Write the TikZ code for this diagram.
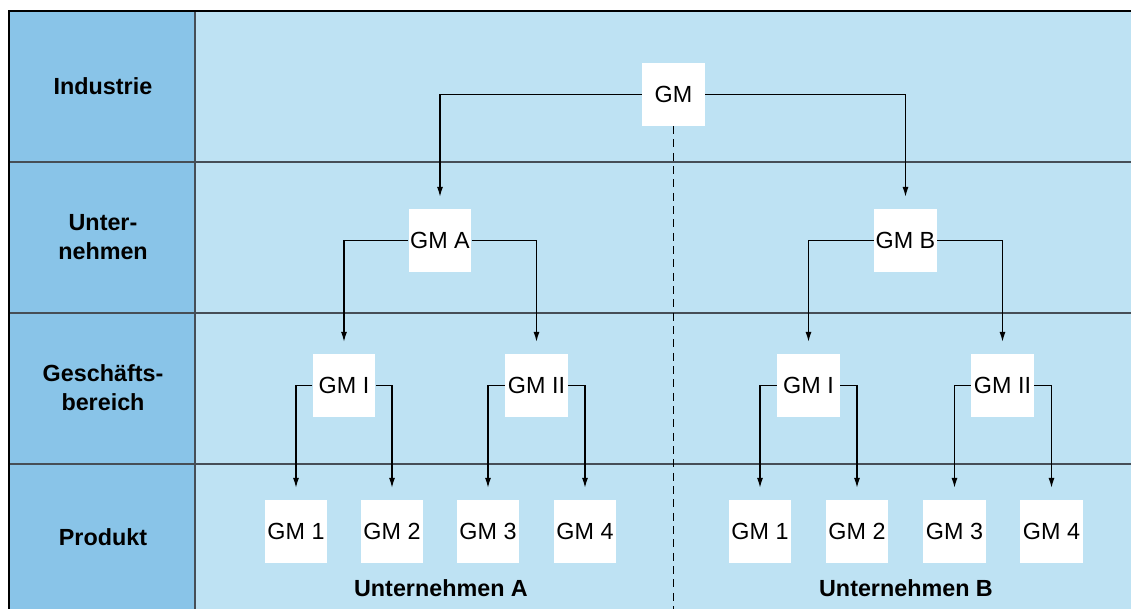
\documentclass[tikz,border=0pt]{standalone}
\usepackage{fontspec}
\setmainfont{Liberation Sans}
\usetikzlibrary{arrows.meta}
\definecolor{sidecol}{RGB}{137,196,232}
\definecolor{maincol}{RGB}{190,226,243}
\definecolor{gridcol}{RGB}{70,78,86}
\tikzset{%
  gmbox/.style={fill=white,minimum size=47pt,inner sep=0,font=\fontsize{17.5}{21}\selectfont},
  rowlab/.style={align=center,font=\fontsize{17.5}{21.75}\selectfont\bfseries},
  gline/.style={draw=gridcol,line width=1.1pt},
  tree/.style={draw=black,line width=1pt,-{Latex[length=7.5pt,width=4.5pt]},shorten >=9pt},
  split/.style={draw=black,line width=1pt,dash pattern=on 6pt off 4pt}
}

\begin{document}
\begin{tikzpicture}[x=0.75pt,y=-0.75pt]
      \useasboundingbox (0,0) rectangle (1131,609);
      % background and grid
      \fill[sidecol] (9,11) rectangle (195,609);
      \fill[maincol] (195,11) rectangle (1131,609);
      \draw[gline] (9,162) -- (1131,162) (9,313) -- (1131,313) (9,464) -- (1131,464) (195,11) -- (195,609);
      \draw[line width=1.5pt] (9,609) -- (9,11) -- (1131,11);
      % row labels
      \path
        (103,86) node[rowlab] (l_ind) {Industrie}
        (103,237) node[rowlab] (l_unt) {Unter-\\nehmen}
        (103,388) node[rowlab] (l_gb) {Gesch\"afts-\\bereich}
        (103,537) node[rowlab] (l_prod) {Produkt}
        (441,588) node[rowlab] (l_A) {Unternehmen A}
        (906,588) node[rowlab] (l_B) {Unternehmen B};
      % boxes
      \path
        (673.5,94.5) node[gmbox] (gm) {GM}
        (440,240.5) node[gmbox] (gm_A) {GM A}
        (905.5,240.5) node[gmbox] (gm_B) {GM B}
        (344,385.5) node[gmbox] (gm_AI) {GM I}
        (536.5,385.5) node[gmbox] (gm_AII) {GM II}
        (808.5,385.5) node[gmbox] (gm_BI) {GM I}
        (1002.5,385.5) node[gmbox] (gm_BII) {GM II}
        (296,531.5) node[gmbox] (gm_A1) {GM 1}
        (392,531.5) node[gmbox] (gm_A2) {GM 2}
        (488,531.5) node[gmbox] (gm_A3) {GM 3}
        (585,531.5) node[gmbox] (gm_A4) {GM 4}
        (760,531.5) node[gmbox] (gm_B1) {GM 1}
        (857,531.5) node[gmbox] (gm_B2) {GM 2}
        (954.5,531.5) node[gmbox] (gm_B3) {GM 3}
        (1051.5,531.5) node[gmbox] (gm_B4) {GM 4};
      \coordinate (cut) at (673.5,609);
      \draw[split] (gm.south) -- (cut);
      % connectors
      \draw[tree] (gm) -| (gm_A);
      \draw[tree] (gm) -| (gm_B);
      \draw[tree] (gm_A) -| (gm_AI);
      \draw[tree] (gm_A) -| (gm_AII);
      \draw[tree] (gm_B) -| (gm_BI);
      \draw[tree] (gm_B) -| (gm_BII);
      \draw[tree] (gm_AI) -| (gm_A1);
      \draw[tree] (gm_AI) -| (gm_A2);
      \draw[tree] (gm_AII) -| (gm_A3);
      \draw[tree] (gm_AII) -| (gm_A4);
      \draw[tree] (gm_BI) -| (gm_B1);
      \draw[tree] (gm_BI) -| (gm_B2);
      \draw[tree] (gm_BII) -| (gm_B3);
      \draw[tree] (gm_BII) -| (gm_B4);
    \end{tikzpicture}
\end{document}
